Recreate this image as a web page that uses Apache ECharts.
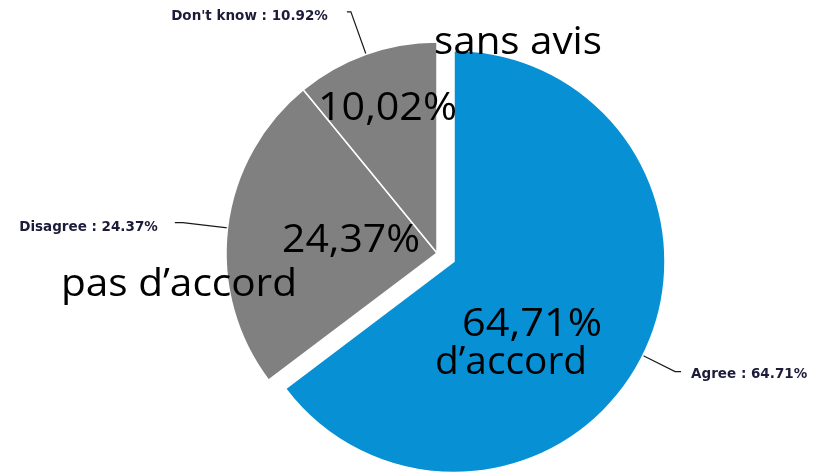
<!DOCTYPE html>
<html>
<head>
<meta charset="utf-8">
<script src="https://cdn.jsdelivr.net/npm/echarts@6/dist/echarts.min.js"></script>
<style>
html,body{margin:0;padding:0;background:#fff;}
#chart{width:825px;height:473px;}
</style>
</head>
<body>
<div id="chart"></div>
<script>
// ---- data ----
var categories = ['Agree', 'Disagree', "Don't know"];
var values = [64.71, 24.37, 10.92];
var colors = ['#0890d4', '#808080', '#808080'];
// French overlay captions (as in the picture)
var overlayTexts = ['sans avis', '10,02%', '24,37%', 'pas d\u2019accord', '64,71%', 'd\u2019accord'];

// ---- layout for captions: [left, baseline, targetWidth] ----
var overlayPos = [
  [434, 57, 168],
  [318, 123, 139],
  [282, 255, 138],
  [61, 299, 236],
  [462, 339, 140],
  [435, 377, 152]
];
var bigFont = 'Open Sans';
var bigSize = 38;

var labelCfg = [
  {length: 36, length2: 6, dist: 10, dy: 3},
  {length: 45, length2: 8, dist: 17, dy: 5},
  {length: 45, length2: 4, dist: 19, dy: 5}
];

var ctx = document.createElement('canvas').getContext('2d');
function measure(t, size) {
  ctx.font = size + 'px "' + bigFont + '"';
  return ctx.measureText(t).width;
}

var chart = echarts.init(document.getElementById('chart'), null, {renderer: 'canvas'});

var data = categories.map(function (c, i) {
  return {
    name: c,
    value: values[i],
    selected: i === 0,
    itemStyle: {color: colors[i]},
    labelLine: {length: labelCfg[i].length, length2: labelCfg[i].length2},
    label: {distanceToLabelLine: labelCfg[i].dist}
  };
});

var graphics = overlayTexts.map(function (t, i) {
  var p = overlayPos[i];
  var w = measure(t, bigSize);
  return {
    type: 'text',
    x: p[0],
    y: p[1] - 0.36 * bigSize,
    scaleX: p[2] / w,
    z: 100,
    silent: true,
    style: {
      text: t,
      font: bigSize + 'px "' + bigFont + '"',
      fill: '#000',
      align: 'left',
      verticalAlign: 'middle'
    }
  };
});

chart.setOption({
  animation: false,
  backgroundColor: '#ffffff',
  series: [{
    type: 'pie',
    center: [437, 253],
    radius: 211,
    startAngle: 90,
    clockwise: true,
    selectedMode: 'single',
    selectedOffset: 19,
    avoidLabelOverlap: false,
    itemStyle: {borderColor: '#ffffff', borderWidth: 1.5},
    label: {
      show: true,
      position: 'outside',
      formatter: function (p) { return p.name + ' : ' + p.value.toFixed(2) + '%'; },
      fontFamily: 'DejaVu Sans',
      fontWeight: 'bold',
      fontSize: 13.5,
      color: '#1c1c3a'
    },
    labelLine: {
      show: true,
      lineStyle: {color: '#1a1a1a', width: 1.2}
    },
    labelLayout: function (params) {
      return {dy: labelCfg[params.dataIndex].dy};
    },
    emphasis: {disabled: true},
    data: data
  }],
  graphic: graphics
});
</script>
</body>
</html>
